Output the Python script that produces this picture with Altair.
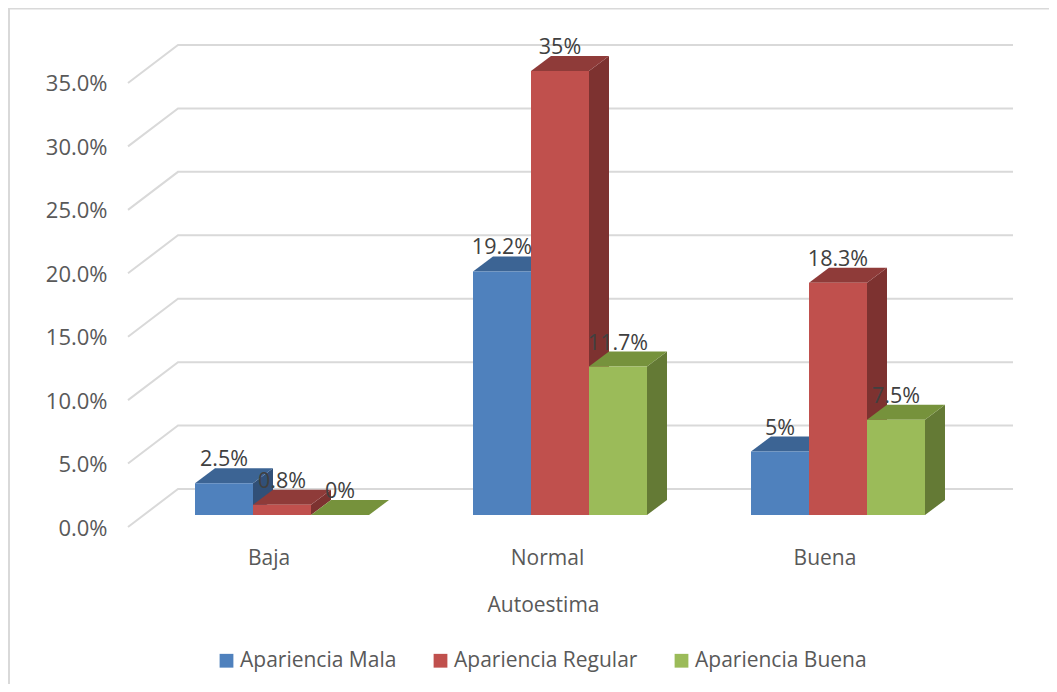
import altair as alt
import pandas as pd

categories = ["Baja", "Normal", "Buena"]
series_names = ["Apariencia Mala", "Apariencia Regular", "Apariencia Buena"]
mala = [2.5, 19.2, 5]
regular = [0.8, 35, 18.3]
buena = [0, 11.7, 7.5]
y_ticks = [0, 0.05, 0.10, 0.15, 0.20, 0.25, 0.30, 0.35]
front_colors = ["#4F81BD", "#C0504D", "#9BBB59"]
top_colors = ["#3C6494", "#8F3B39", "#76923C"]
side_colors = ["#315078", "#7D3230", "#647A35"]

W, H = 1041, 676
FONT = "Open Sans"
PXY = 1268.6          # pixels per 100 %
PXX = 278.0           # pixels per category step
def ux(page_x):       # page pixel -> category units
    return (page_x - 282) / PXX
BAR = 58 / PXX
DX, DY = 20 / PXX, 15 / PXY
BASE = 12 / PXY
WALL_DY = 38 / PXY

x_scale = alt.Scale(domain=[ux(8), ux(8 + W)], nice=False, zero=False)
y_scale = alt.Scale(domain=[(519 - H) / PXY, 519 / PXY], nice=False, zero=False)

x_axis = alt.Axis(
    values=[ux(268.5), ux(547), ux(824.5)],
    labelExpr="datum.index < 0.3 ? 'Baja' : datum.index < 0.7 ? 'Normal' : 'Buena'",
    title="Autoestima", titleFont=FONT, titleFontSize=21, titleFontWeight="normal",
    titleColor="#595959", titleX=535, titleY=65, titleBaseline="middle",
    labelFont=FONT, labelFontSize=21, labelColor="#595959",
    labelPadding=18, labelBaseline="middle", labelOverlap=False,
    domain=False, ticks=False, grid=False, offset=-(H - 532),
)
y_axis = alt.Axis(
    values=y_ticks, format=".1%", title=None,
    labelFont=FONT, labelFontSize=22, labelColor="#595959",
    labelPadding=0, labelOffset=1, labelAlign="right",
    domain=False, ticks=False, grid=False, offset=-99,
)

X = alt.X("x:Q", scale=x_scale, axis=x_axis)
Y = alt.Y("y:Q", scale=y_scale, axis=y_axis, stack=None)

grid_rows = []
for t in y_ticks:
    for px, dy in [(128, 0), (178, WALL_DY), (1013, WALL_DY)]:
        grid_rows.append({"x": ux(px), "y": t + dy, "t": t})
grid = alt.Chart(pd.DataFrame(grid_rows)).mark_line(color="#D9D9D9", strokeWidth=2, clip=False).encode(
    x=X, y=Y, detail="t:N", order="x:Q",
)

layers = [grid]
label_rows = []
values_by_series = [mala, regular, buena]
for j, (name, vals) in enumerate(zip(series_names, values_by_series)):
    side, top, front = [], [], []
    for i, (cat, v) in enumerate(zip(categories, vals)):
        t = v / 100 + BASE
        x0 = i + ux(195) + j * BAR
        x1 = x0 + BAR
        side += [
            {"x": x1, "y": BASE, "y2": t, "cat": cat},
            {"x": x1 + DX, "y": BASE + DY, "y2": t + DY, "cat": cat},
        ]
        top += [
            {"x": x0, "y": t, "y2": t, "cat": cat},
            {"x": x0 + DX, "y": t, "y2": t + DY, "cat": cat},
            {"x": x1, "y": t, "y2": t + DY, "cat": cat},
            {"x": x1 + DX, "y": t + DY, "y2": t + DY, "cat": cat},
        ]
        front.append({"x": x0, "x2": x1, "y": BASE, "y2": t, "serie": name})
        label_rows.append({"x": (x0 + x1) / 2, "y": t + DY, "label": f"{v:g}%"})
    layers.append(
        alt.Chart(pd.DataFrame(side)).mark_area(color=side_colors[j]).encode(
            x=X, y=Y, y2=alt.Y2("y2:Q"), detail="cat:N"))
    layers.append(
        alt.Chart(pd.DataFrame(top)).mark_area(color=top_colors[j]).encode(
            x=X, y=Y, y2=alt.Y2("y2:Q"), detail="cat:N"))
    layers.append(
        alt.Chart(pd.DataFrame(front)).mark_rect().encode(
            x=X, x2="x2:Q", y=Y, y2="y2:Q",
            color=alt.Color(
                "serie:N",
                scale=alt.Scale(domain=series_names, range=front_colors),
                legend=alt.Legend(
                    title=None, orient="none", direction="horizontal",
                    legendX=208, legendY=642, labelLimit=400,
                    symbolType="square", symbolSize=190, symbolStrokeWidth=0,
                    labelFont=FONT, labelFontSize=21, labelColor="#595959",
                    labelOffset=3, columnPadding=33,
                ),
            ),
        ))

labels = alt.Chart(pd.DataFrame(label_rows)).mark_text(
    font=FONT, fontSize=21.5, color="#404040", baseline="middle", align="center", dy=-8
).encode(x=X, y=Y, text="label:N")
layers.append(labels)

border_top = alt.Chart(pd.DataFrame({"a": [0]})).mark_rule(color="#D9D9D9", strokeWidth=2).encode(
    x=alt.value(0), x2=alt.value(W), y=alt.value(0.5))
border_left = alt.Chart(pd.DataFrame({"a": [0]})).mark_rule(color="#D9D9D9", strokeWidth=2).encode(
    x=alt.value(1), y=alt.value(0), y2=alt.value(H))
layers += [border_top, border_left]

chart = (
    alt.layer(*layers)
    .properties(width=W, height=H, padding=0, autosize=alt.AutoSizeParams(type="none"), background="white")
    .configure_view(stroke=None)
)
chart.save("out.html", embed_options={"renderer": "svg", "actions": False})
